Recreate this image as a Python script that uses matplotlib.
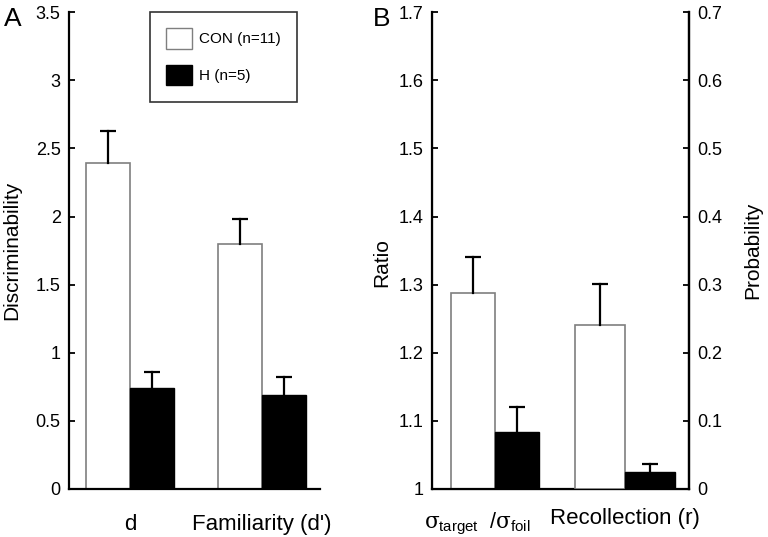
import matplotlib
matplotlib.use('Agg')
import matplotlib.pyplot as plt
from matplotlib.patches import Patch
from matplotlib.ticker import FuncFormatter

plt.rcParams['font.family'] = ['Liberation Sans', 'DejaVu Sans']
plt.rcParams['mathtext.fontset'] = 'custom'
plt.rcParams['mathtext.rm'] = 'Liberation Sans'
plt.rcParams['mathtext.it'] = 'DejaVu Serif'

# panel A: discriminability
groups_a = ['d', "Familiarity (d')"]
con_a = [2.39, 1.80]
con_a_err = [0.24, 0.18]
h_a = [0.74, 0.69]
h_a_err = [0.12, 0.13]

# panel B: ratio (left axis) and probability (right axis)
con_ratio, con_ratio_err = 1.288, 0.052
h_ratio, h_ratio_err = 1.083, 0.038
con_prob, con_prob_err = 0.241, 0.060
h_prob, h_prob_err = 0.025, 0.011

legend_labels = ['CON (n=11)', 'H (n=5)']

fmt = FuncFormatter(lambda v, p: '%g' % round(v, 2))
edge = '#7f7f7f'


def up_err(ax, xs, tops, errs):
    # one-sided (upper) error bars with a cap only at the top
    for xx, t, e in zip(xs, tops, errs):
        ax.plot([xx, xx], [t, t + e], color='black', lw=1.6, zorder=3)
        ax.plot([xx], [t + e], marker='_', ms=11, mew=1.6, color='black', zorder=3)


fig = plt.figure(figsize=(7.68, 5.37), dpi=100)

# ---- panel A
ax = fig.add_axes([0.0898, 0.0894, 0.327, 0.888])
w = 0.333
x = [1, 2]
xc = [i - w / 2 for i in x]
xh = [i + w / 2 for i in x]
ax.bar(xc, con_a, w, color='white', edgecolor=edge, linewidth=1.2, zorder=2)
ax.bar(xh, h_a, w, color='black', edgecolor='black', zorder=2)
up_err(ax, xc, con_a, con_a_err)
up_err(ax, xh, h_a, h_a_err)
ax.set_xlim(0.538, 2.44)
ax.set_ylim(0, 3.5)
ax.set_yticks([0, 0.5, 1, 1.5, 2, 2.5, 3, 3.5])
ax.yaxis.set_major_formatter(fmt)
ax.set_xticks(x)
ax.set_xticklabels(groups_a, fontsize=16)
ax.tick_params(axis='x', length=0, pad=18)
ax.tick_params(axis='y', direction='in', length=4, width=1.3, labelsize=13, pad=6)
ax.spines['top'].set_visible(False)
ax.spines['right'].set_visible(False)
for s in ['left', 'bottom']:
    ax.spines[s].set_linewidth(1.6)
ax.set_ylabel('Discriminability', fontsize=15, labelpad=10)
fig.text(0.005, 0.965, 'A', fontsize=19, va='center')

handles = [Patch(facecolor='white', edgecolor=edge, label=legend_labels[0]),
           Patch(facecolor='black', edgecolor='black', label=legend_labels[1])]
leg = ax.legend(handles=handles, loc='upper left', bbox_to_anchor=(0.323, 1.0),
                frameon=True, fancybox=False, edgecolor='black', fontsize=11,
                handlelength=1.7, handleheight=1.7, borderpad=1.05, labelspacing=1.05,
                handletextpad=0.45, borderaxespad=0)
leg.get_frame().set_linewidth(1.2)

# ---- panel B
bx = fig.add_axes([0.5625, 0.0894, 0.3346, 0.888])
w1 = 0.338
w2 = 0.385
bx.bar(1 - w1 / 2, con_ratio - 1, w1, bottom=1, color='white', edgecolor=edge, linewidth=1.2, zorder=2)
bx.bar(1 + w1 / 2, h_ratio - 1, w1, bottom=1, color='black', edgecolor='black', zorder=2)
up_err(bx, [1 - w1 / 2, 1 + w1 / 2], [con_ratio, h_ratio], [con_ratio_err, h_ratio_err])
bx.set_xlim(0.515, 2.49)
bx.set_ylim(1, 1.7)
bx.set_yticks([1, 1.1, 1.2, 1.3, 1.4, 1.5, 1.6, 1.7])
bx.yaxis.set_major_formatter(fmt)
bx.set_xticks([2])
bx.set_xticklabels(['Recollection (r)'], fontsize=16)
bx.tick_params(axis='x', length=0, pad=14)
bx.tick_params(axis='y', direction='in', length=4, width=1.3, labelsize=13, pad=6)
bx.text(0.86, -0.045, r'$\sigma_{\rm target}$  /$\sigma_{\rm foil}$', transform=bx.get_xaxis_transform(),
        ha='center', va='top', fontsize=15.5)
bx.spines['top'].set_visible(False)
for s in ['left', 'bottom', 'right']:
    bx.spines[s].set_linewidth(1.6)
bx.set_ylabel('Ratio', fontsize=15, labelpad=8)
bx.yaxis.set_label_coords(-0.16, 0.475)

bx2 = bx.twinx()
bx2.bar(2 - w2 / 2, con_prob, w2, color='white', edgecolor=edge, linewidth=1.2, zorder=2)
bx2.bar(2 + w2 / 2, h_prob, w2, color='black', edgecolor='black', zorder=2)
up_err(bx2, [2 - w2 / 2, 2 + w2 / 2], [con_prob, h_prob], [con_prob_err, h_prob_err])
bx2.set_ylim(0, 0.7)
bx2.set_yticks([0, 0.1, 0.2, 0.3, 0.4, 0.5, 0.6, 0.7])
bx2.yaxis.set_major_formatter(fmt)
bx2.tick_params(axis='y', direction='in', length=4, width=1.3, labelsize=13, pad=6)
bx2.spines['top'].set_visible(False)
bx2.spines['right'].set_linewidth(1.6)
bx2.set_ylabel('Probability', fontsize=15, labelpad=15)
fig.text(0.485, 0.965, 'B', fontsize=19, va='center')

fig.savefig('out.png', dpi=100)
